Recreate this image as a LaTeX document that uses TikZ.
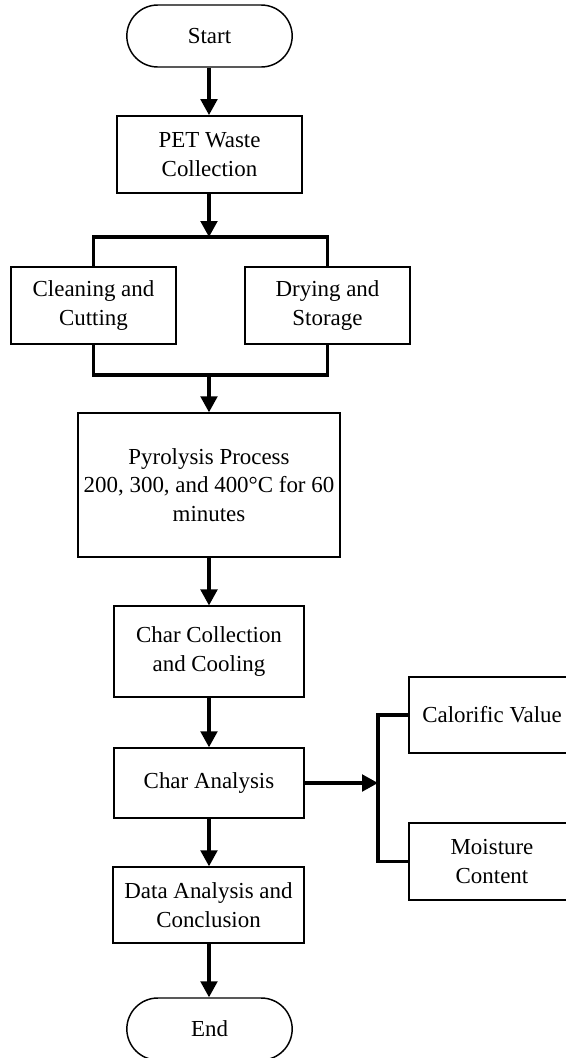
\documentclass[tikz,border=0pt]{standalone}
\usepackage{fontspec}
\setmainfont{Liberation Serif}
\usetikzlibrary{arrows.meta}
\begin{document}
\begin{tikzpicture}[x=0.75pt,y=-0.75pt,
  box/.style={draw,line width=1.1pt,rectangle,align=center,inner sep=2pt,
    font=\fontsize{17.2}{21.4}\selectfont},
  term/.style={box,rounded corners=23.25pt},
  conn/.style={line width=2.4pt},
  arr/.style={conn,-{Triangle[width=12.5pt,length=12pt]}}
]
\clip (0,0) rectangle (566,1058);
\fill[white] (0,0) rectangle (566,1058);
\node[term,minimum width=124pt,minimum height=46.5pt] (start) at (209.5,36) {Start};
\node[box,minimum width=139pt,minimum height=58pt] (pet) at (209.5,154.5) {PET Waste\\Collection};
\node[box,minimum width=124pt,minimum height=58pt] (clean) at (93.5,305.5) {Cleaning and\\Cutting};
\node[box,minimum width=124pt,minimum height=58pt] (dry) at (327.5,305.5) {Drying and\\Storage};
\node[box,minimum width=196.5pt,minimum height=108pt] (pyro) at (209,485) {Pyrolysis Process\\200, 300, and 400°C for 60\\minutes};
\node[box,minimum width=142.5pt,minimum height=68pt] (coll) at (209,651.5) {Char Collection\\and Cooling};
\node[box,minimum width=142.5pt,minimum height=52.5pt] (ana) at (209,783) {Char Analysis};
\node[box,minimum width=143pt,minimum height=57pt] (data) at (208.5,905) {Data Analysis and\\Conclusion};
\node[term,minimum width=124pt,minimum height=46.5pt] (end) at (209.5,1029) {End};
\node[box,minimum width=124.5pt,minimum height=57pt] (cal) at (492,715) {Calorific Value};
\node[box,minimum width=124.5pt,minimum height=58pt] (moist) at (492,861.5) {Moisture\\Content};
\coordinate (split) at (209,237);
\coordinate (join) at (209,375);
\coordinate (hub) at (378,783);
\draw[arr] (start.south -| split) -- (pet.north -| split);
\draw[arr] (pet.south -| split) -- (split);
\draw[conn] (clean.north) -- (clean.north |- split) -- (dry.north |- split) -- (dry.north);
\draw[conn] (clean.south) -- (clean.south |- join) -- (dry.south |- join) -- (dry.south);
\draw[arr] (join) -- (pyro.north -| join);
\draw[arr] (pyro.south -| join) -- (coll.north -| join);
\draw[arr] (coll.south -| join) -- (ana.north -| join);
\draw[arr] (ana.south -| join) -- (data.north -| join);
\draw[arr] (data.south -| join) -- (end.north -| join);
\draw[arr] (ana.east) -- (hub);
\draw[conn] (cal.west) -- (cal.west -| hub) -- (moist.west -| hub) -- (moist.west);
\end{tikzpicture}
\end{document}
